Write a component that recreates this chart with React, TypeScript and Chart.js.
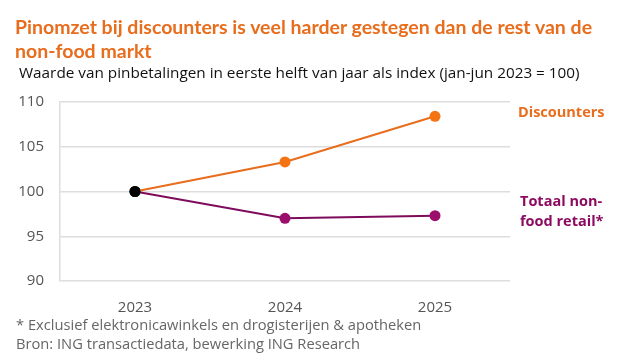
import React, { useEffect, useRef } from "react";
import { Chart, registerables } from "chart.js";

Chart.register(...registerables);

const categories = ["2023", "2024", "2025"];
const discounters = [100, 103.3, 108.4];
const totaalNonFood = [100, 97.0, 97.3];
const yTicks = [90, 95, 100, 105, 110];

const ORANGE = "#E86D1C";
const ORANGE_MARK = "#F47313";
const PURPLE = "#7E0B5C";
const PURPLE_MARK = "#9C0E6C";
const PURPLE_TEXT = "#8C0B60";
const FONT = "'Open Sans', sans-serif";

export default function App() {
  const ref = useRef<HTMLCanvasElement | null>(null);
  useEffect(() => {
    if (!ref.current) return;
    const chart = new Chart(ref.current, {
      type: "line",
      data: {
        labels: categories,
        datasets: [
          {
            label: "Discounters",
            data: discounters,
            borderColor: ORANGE,
            borderWidth: 2,
            pointRadius: 5.5,
            pointBackgroundColor: ["#000000", ORANGE_MARK, ORANGE_MARK],
            pointBorderWidth: 0,
            tension: 0,
          },
          {
            label: "Totaal non-food retail*",
            data: totaalNonFood,
            borderColor: PURPLE,
            borderWidth: 2,
            pointRadius: 5.5,
            pointBackgroundColor: ["#000000", PURPLE_MARK, PURPLE_MARK],
            pointBorderWidth: 0,
            tension: 0,
          },
        ],
      },
      options: {
        animation: false,
        responsive: false,
        layout: { padding: { left: 10, right: 115, top: 102, bottom: 38 } },
        plugins: { legend: { display: false }, tooltip: { enabled: false } },
        scales: {
          x: {
            offset: true,
            grid: { display: false },
            border: { display: false },
            ticks: { color: "#555555", font: { family: FONT, size: 15 }, padding: 10 },
            afterFit: (s: any) => { s.height = 40; },
          },
          y: {
            min: 90,
            max: 110,
            afterBuildTicks: (s: any) => { s.ticks = yTicks.map((v) => ({ value: v })); },
            grid: { color: "#dddddd", lineWidth: 1.5, drawTicks: false },
            border: { display: true, color: "#dddddd", width: 1.5 },
            ticks: { color: "#555555", font: { family: FONT, size: 15 }, padding: 16 },
            afterFit: (s: any) => { s.width = 50; },
          },
        },
      },
    });
    return () => chart.destroy();
  }, []);

  const abs = (extra: React.CSSProperties): React.CSSProperties => ({
    position: "absolute",
    whiteSpace: "nowrap",
    fontFamily: FONT,
    ...extra,
  });

  return (
    <div style={{ position: "absolute", left: 0, top: 0, width: 625, height: 359, background: "#fff" }}>
      <canvas ref={ref} width={625} height={359} style={{ position: "absolute", left: 0, top: 0 }} />
      <div style={abs({ left: 15, top: 15, fontSize: 19.5, fontWeight: 700, color: ORANGE, lineHeight: "24px", fontFamily: "Lato, sans-serif" })}>
        Pinomzet bij discounters is veel harder gestegen dan de rest van de
        <br />
        non-food markt
      </div>
      <div style={abs({ left: 19, top: 62, fontSize: 15.3, color: "#111", lineHeight: "20px" })}>
        Waarde van pinbetalingen in eerste helft van jaar als index (jan-jun 2023 = 100)
      </div>
      <div style={abs({ left: 518, top: 102, fontSize: 14.5, fontWeight: 700, color: ORANGE, lineHeight: "20px" })}>
        Discounters
      </div>
      <div style={abs({ left: 520, top: 191, fontSize: 14.5, fontWeight: 700, color: PURPLE_TEXT, lineHeight: "20px" })}>
        Totaal non-
        <br />
        food retail*
      </div>
      <div style={abs({ left: 16, top: 315, fontSize: 14.7, color: "#666", lineHeight: "19px" })}>
        * Exclusief elektronicawinkels en drogisterijen &amp; apotheken
        <br />
        Bron: ING transactiedata, bewerking ING Research
      </div>
    </div>
  );
}
